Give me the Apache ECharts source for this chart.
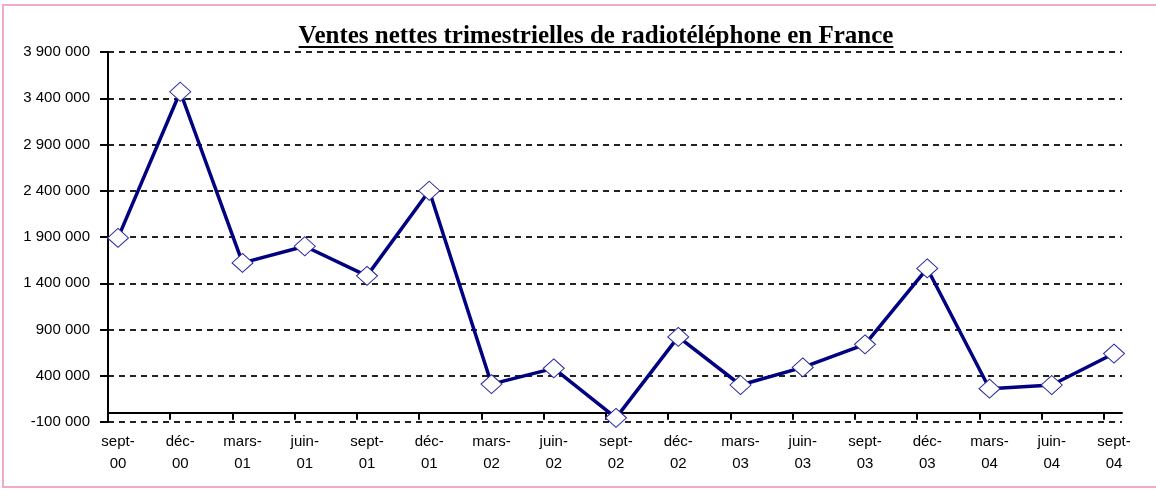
<!DOCTYPE html>
<html>
<head>
<meta charset="utf-8">
<script src="https://cdn.jsdelivr.net/npm/echarts@6/dist/echarts.min.js"></script>
<style>
  html, body { margin: 0; padding: 0; background: #fff; }
  #chart { width: 1156px; height: 491px; }
  #frame {
    position: absolute; left: 2px; top: 4px; width: 1170px; height: 480px;
    border: 2px solid #f2aac8; pointer-events: none;
  }
</style>
</head>
<body>
<div id="chart"></div>
<div id="frame"></div>
<script>
const categories = [
  "sept-\n00", "déc-\n00", "mars-\n01", "juin-\n01", "sept-\n01", "déc-\n01",
  "mars-\n02", "juin-\n02", "sept-\n02", "déc-\n02", "mars-\n03", "juin-\n03",
  "sept-\n03", "déc-\n03", "mars-\n04", "juin-\n04", "sept-\n04"
];
const ventes = [
  1890000, 3470000, 1620000, 1800000, 1480000, 2400000,
  310000, 480000, -55000, 820000, 300000, 490000,
  740000, 1560000, 260000, 300000, 640000
];
const yMin = -100000;
const yMax = 3900000;
const yStep = 500000;

const titleText = "Ventes nettes trimestrielles de radiotéléphone en France";
const titleFont = "bold 25px 'Liberation Serif'";
const titleX = 596;

const fmt = (v) => String(v).replace(/\B(?=(\d{3})+(?!\d))/g, " ");

// width of the title, for the underline
const ctx = document.createElement("canvas").getContext("2d");
ctx.font = titleFont;
const titleW = ctx.measureText(titleText).width;

// x ticks of the frame axis, one per category
const tickValues = categories.map((c, i) => i);

const chart = echarts.init(document.getElementById("chart"));

const option = {
  animation: false,
  title: {
    text: titleText,
    left: titleX,
    top: 24,
    padding: 0,
    textAlign: "center",
    textStyle: {
      fontFamily: "Liberation Serif",
      fontWeight: "bold",
      fontSize: 25,
      color: "#000"
    }
  },
  graphic: [
    {
      type: "line",
      shape: { x1: titleX - titleW / 2, y1: 47, x2: titleX + titleW / 2, y2: 47 },
      style: { stroke: "#000", lineWidth: 2 }
    }
  ],
  grid: [
    // frame grid: axes, ticks, dashed lines
    { left: 108, right: 34, top: 52, bottom: 69 },
    // data grid: points sit 10px inside the frame
    { left: 118, right: 42, top: 52, bottom: 69 }
  ],
  xAxis: [
    {
      gridIndex: 0,
      type: "value",
      min: 0,
      max: 16.29,
      interval: 1,
      axisLine: { onZero: true, lineStyle: { color: "#000", width: 2 } },
      axisTick: {
        show: true,
        length: 7,
        customValues: tickValues,
        lineStyle: { color: "#000", width: 2 }
      },
      axisLabel: { show: false },
      splitLine: { show: false }
    },
    {
      gridIndex: 1,
      type: "category",
      boundaryGap: false,
      data: categories,
      axisLine: { show: false, onZero: true },
      axisTick: { show: false },
      axisLabel: {
        margin: 9,
        interval: 0,
        color: "#000",
        fontFamily: "Liberation Sans",
        fontSize: 15,
        lineHeight: 22
      }
    }
  ],
  yAxis: [
    {
      gridIndex: 0,
      type: "value",
      min: yMin,
      max: yMax,
      interval: yStep,
      axisLine: { show: true, lineStyle: { color: "#000", width: 2 } },
      axisTick: { show: true, length: 8, lineStyle: { color: "#000", width: 2 } },
      axisLabel: {
        margin: 18,
        color: "#000",
        fontFamily: "Liberation Sans",
        fontSize: 15,
        formatter: fmt
      },
      splitLine: {
        show: true,
        lineStyle: { color: "#222", width: 2, type: [6, 5] }
      }
    },
    {
      gridIndex: 1,
      type: "value",
      min: yMin,
      max: yMax,
      interval: yStep,
      show: false,
      splitLine: { show: false }
    }
  ],
  series: [
    {
      type: "line",
      xAxisIndex: 1,
      yAxisIndex: 1,
      data: ventes,
      symbol: "diamond",
      symbolSize: [21, 19],
      showAllSymbol: true,
      lineStyle: { color: "#000080", width: 3.5 },
      itemStyle: { color: "#fff", borderColor: "#2a2aa0", borderWidth: 1 },
      z: 3
    }
  ]
};

chart.setOption(option);
</script>
</body>
</html>
